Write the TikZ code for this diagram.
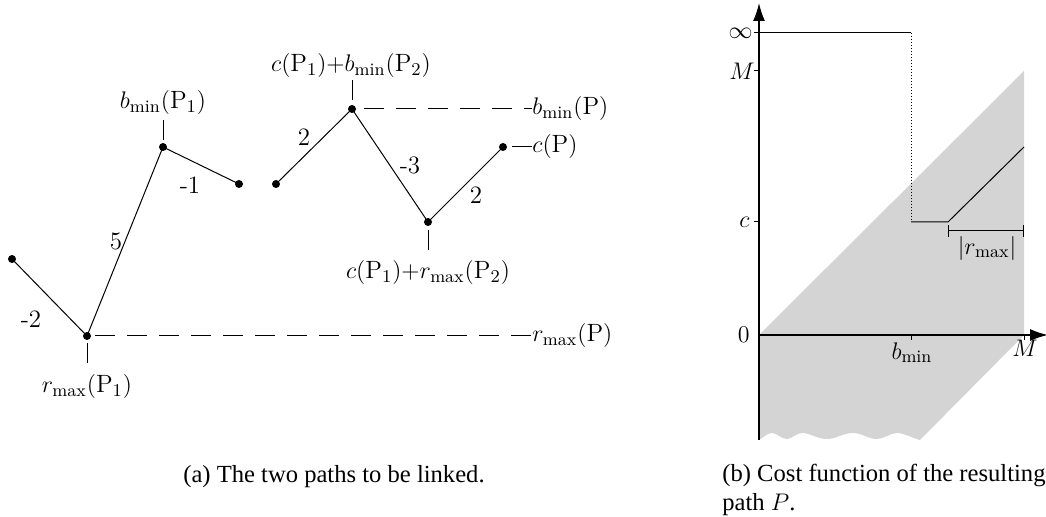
\documentclass[tikz,border=0pt]{standalone}
\usepackage{fontspec}
\newfontfamily\capfont{Liberation Serif}
\usetikzlibrary{arrows.meta}
\begin{document}
\begin{tikzpicture}[x=0.5pt,y=-0.5pt,
  pth/.style={line width=0.5pt},
  dot/.style={circle,fill,inner sep=0pt,minimum size=4pt},
  lbl/.style={font=\fontsize{12.5}{14}\selectfont,inner sep=1pt},
  captext/.style={font=\capfont\fontsize{12.3}{15}\selectfont,inner sep=0pt},
  dsh/.style={line width=0.5pt,dash pattern=on 10pt off 6pt},
  axis/.style={line width=0.75pt},
  tick/.style={line width=0.5pt}]
\useasboundingbox (0,0) rectangle (1046,517);
% ---- (a) left diagram ----
\node[dot] (A) at (12,259) {};
\node[dot] (B) at (87,336) {};
\node[dot] (C) at (163,147) {};
\node[dot] (D) at (239,184) {};
\node[dot] (E) at (276,184) {};
\node[dot] (F) at (352,109) {};
\node[dot] (G) at (428,222) {};
\node[dot] (H) at (503,147) {};
\draw[pth] (A.center) -- (B.center) -- (C.center) -- (D.center);
\draw[pth] (E.center) -- (F.center) -- (G.center) -- (H.center);
\node[lbl] (lA) at (31,319) {-2};
\node[lbl] (lB) at (116,241) {5};
\node[lbl] (lC) at (190,185) {-1};
\node[lbl] (lE) at (304,137) {2};
\node[lbl] (lF) at (410,165) {-3};
\node[lbl] (lG) at (476,195) {2};
% ticks and labels
\coordinate (tC1) at (163,140); \coordinate (tC2) at (163,120);
\draw[tick] (tC1) -- (tC2);
\node[lbl,anchor=base] (nC) at (163,109) {$b_{\min}(\mathrm{P}_1)$};
\coordinate (tB1) at (87,343); \coordinate (tB2) at (87,363);
\draw[tick] (tB1) -- (tB2);
\node[lbl,anchor=base] (nB) at (87,393) {$r_{\max}(\mathrm{P}_1)$};
\coordinate (tF1) at (352,100); \coordinate (tF2) at (352,80);
\draw[tick] (tF1) -- (tF2);
\node[lbl,anchor=base] (nF) at (351,72) {$c(\mathrm{P}_1){+}b_{\min}(\mathrm{P}_2)$};
\coordinate (tG1) at (428,230); \coordinate (tG2) at (428,250);
\draw[tick] (tG1) -- (tG2);
\node[lbl,anchor=base] (nG) at (428,279) {$c(\mathrm{P}_1){+}r_{\max}(\mathrm{P}_2)$};
% right labels
\node[lbl,anchor=west,inner sep=0pt] (bP) at (532,109) {$b_{\min}(\mathrm{P})$};
\node[lbl,anchor=west,inner sep=0pt] (rP) at (532,336) {$r_{\max}(\mathrm{P})$};
\node[lbl,anchor=west,inner sep=0pt] (cP) at (532,147) {$c(\mathrm{P})$};
\draw[dsh] (F.center) ++(12,0) -- (bP.west);
\draw[dsh] (B.center) ++(8,0) -- (rP.west);
\coordinate (cPl) at (512,147);
\draw[pth] (cPl) -- (cP.west);
\node[captext,anchor=base] (capa) at (334,483) {(a) The two paths to be linked.};
% ---- (b) right diagram ----
\coordinate (O) at (759,335);
\fill[black!17] (759,335) -- (1024,71) -- (1024,335) -- (920,440)
  .. controls (910,437) and (903,433) .. (897,433)
  .. controls (890,433) and (884,439) .. (877,439)
  .. controls (868,439) and (862,433) .. (853,433)
  .. controls (843,433) and (836,439) .. (827,439)
  .. controls (817,439) and (810,433) .. (802,433)
  .. controls (796,433) and (792,439) .. (787,439)
  .. controls (781,439) and (777,433) .. (772,433)
  .. controls (767,433) and (763,438) .. (759,440) -- cycle;
\coordinate (ybot) at (759,440);
\coordinate (ytop) at (759,3);
\coordinate (xend) at (1048,335);
\draw[axis,-{Latex[length=9pt,width=6pt]}] (ybot) -- (ytop);
\draw[axis,-{Latex[length=9pt,width=6pt]}] (O) -- (xend);
% y ticks
\coordinate (yinf) at (759,33);
\coordinate (yM) at (759,71);
\coordinate (yc) at (759,222);
\draw[tick] (yinf) -- ++(-5,0);
\draw[tick] (yM) -- ++(-5,0);
\draw[tick] (yc) -- ++(-5,0);
\node[lbl,anchor=east] (linf) at (755,33) {$\infty$};
\node[lbl,anchor=east,inner sep=0pt] (lM) at (755,71) {$M$};
\node[lbl,anchor=east] (lc) at (752,222) {$c$};
\node[lbl,anchor=east] (l0) at (752,335) {$0$};
% x ticks
\coordinate (xb) at (911,335);
\coordinate (xM) at (1024,335);
\draw[tick] (xb) -- ++(0,5);
\draw[tick] (xM) -- ++(0,5);
\node[lbl,anchor=north] (lb) at (912,340) {$b_{\min}$};
\node[lbl,anchor=north] (lMx) at (1025,338) {$M$};
% function
\coordinate (f1) at (759,33);
\coordinate (f2) at (911,33);
\coordinate (f3) at (911,222);
\coordinate (f4) at (948,222);
\coordinate (f5) at (1024,147);
\draw[pth] (f1) -- (f2);
\draw[pth,densely dotted] (f2) -- (f3);
\draw[pth] (f3) -- (f4) -- (f5);
% r_max bracket
\coordinate (r1) at (948,231);
\coordinate (r2) at (1024,231);
\draw[pth,{Bar[width=6pt]}-{Bar[width=6pt]}] (r1) -- (r2);
\node[lbl,anchor=north] (lr) at (987,234) {$|r_{\max}|$};
\node[captext,anchor=base west] (capb1) at (722,482) {(b) Cost function of the resulting};
\node[captext,anchor=base west] (capb2) at (722,511) {path $P$.};
\end{tikzpicture}
\end{document}
